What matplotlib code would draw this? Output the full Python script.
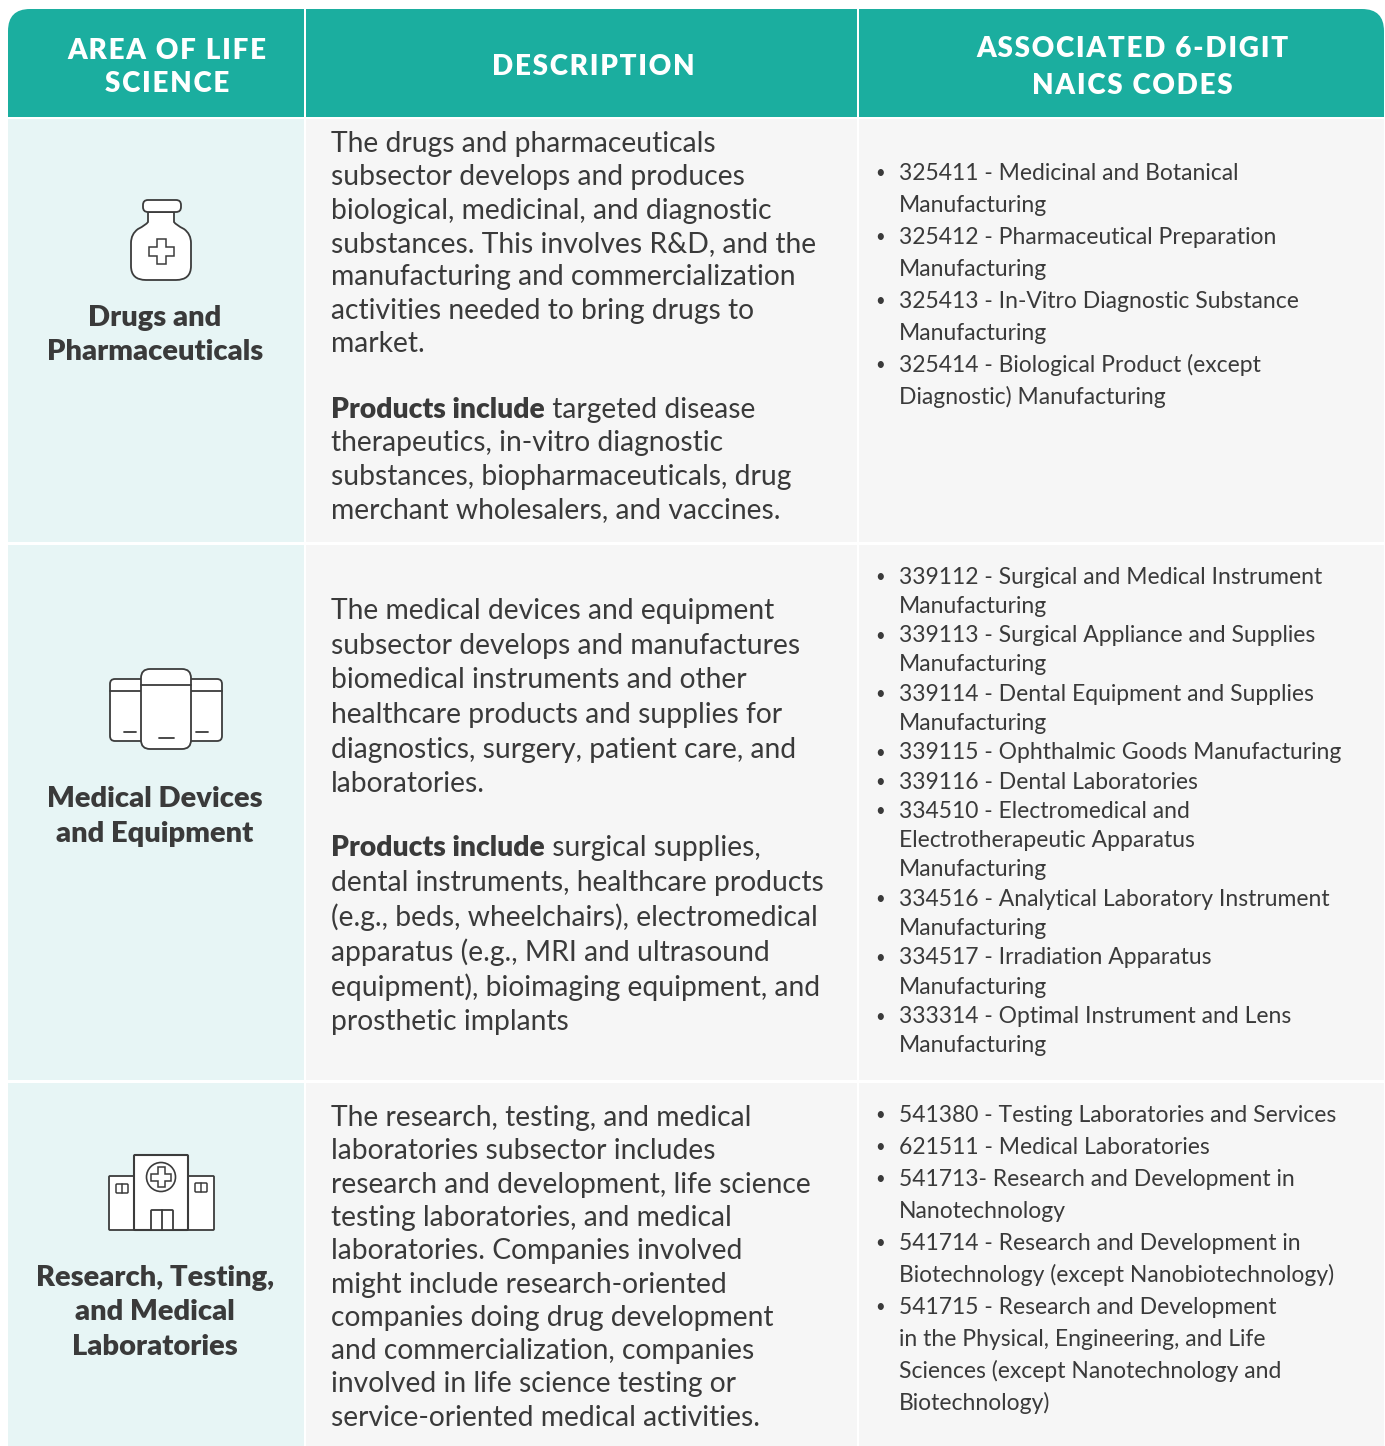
# %%
# ----------------------------------------------------------------------------------
# Import modules
# ----------------------------------------------------------------------------------
import matplotlib
matplotlib.use('Agg')
import matplotlib.pyplot as plt
from matplotlib.patches import Rectangle, FancyBboxPatch, Circle, PathPatch
from matplotlib.path import Path

# %%
# ----------------------------------------------------------------------------------
# Table content
# ----------------------------------------------------------------------------------
header_area = ['AREA OF LIFE', 'SCIENCE']
header_desc = ['DESCRIPTION']
header_codes = ['ASSOCIATED 6-DIGIT', 'NAICS CODES']

area_drugs = ['Drugs and', 'Pharmaceuticals']
area_devices = ['Medical Devices', 'and Equipment']
area_labs = ['Research, Testing,', 'and Medical', 'Laboratories']

desc_drugs_1 = ['The drugs and pharmaceuticals',
                'subsector develops and produces',
                'biological, medicinal, and diagnostic',
                'substances. This involves R&D, and the',
                'manufacturing and commercialization',
                'activities needed to bring drugs to',
                'market.']
desc_drugs_2 = [' targeted disease',
                'therapeutics, in-vitro diagnostic',
                'substances, biopharmaceuticals, drug',
                'merchant wholesalers, and vaccines.']
desc_devices_1 = ['The medical devices and equipment',
                  'subsector develops and manufactures',
                  'biomedical instruments and other',
                  'healthcare products and supplies for',
                  'diagnostics, surgery, patient care, and',
                  'laboratories.']
desc_devices_2 = [' surgical supplies,',
                  'dental instruments, healthcare products',
                  '(e.g., beds, wheelchairs), electromedical',
                  'apparatus (e.g., MRI and ultrasound',
                  'equipment), bioimaging equipment, and',
                  'prosthetic implants']
desc_labs = ['The research, testing, and medical',
             'laboratories subsector includes',
             'research and development, life science',
             'testing laboratories, and medical',
             'laboratories. Companies involved',
             'might include research-oriented',
             'companies doing drug development',
             'and commercialization, companies',
             'involved in life science testing or',
             'service-oriented medical activities.']
products_label = 'Products include'

# each code entry is a list of wrapped lines, the bullet goes on the first one
codes_drugs = [['325411 - Medicinal and Botanical', 'Manufacturing'],
               ['325412 - Pharmaceutical Preparation', 'Manufacturing'],
               ['325413 - In-Vitro Diagnostic Substance', 'Manufacturing'],
               ['325414 - Biological Product (except',
                'Diagnostic) Manufacturing']]
codes_devices = [['339112 - Surgical and Medical Instrument', 'Manufacturing'],
                 ['339113 - Surgical Appliance and Supplies', 'Manufacturing'],
                 ['339114 - Dental Equipment and Supplies', 'Manufacturing'],
                 ['339115 - Ophthalmic Goods Manufacturing'],
                 ['339116 - Dental Laboratories'],
                 ['334510 - Electromedical and',
                  'Electrotherapeutic Apparatus', 'Manufacturing'],
                 ['334516 - Analytical Laboratory Instrument', 'Manufacturing'],
                 ['334517 - Irradiation Apparatus', 'Manufacturing'],
                 ['333314 - Optimal Instrument and Lens', 'Manufacturing']]
codes_labs = [['541380 - Testing Laboratories and Services'],
              ['621511 - Medical Laboratories'],
              ['541713- Research and Development in', 'Nanotechnology'],
              ['541714 - Research and Development in',
               'Biotechnology (except Nanobiotechnology)'],
              ['541715 - Research and Development',
               'in the Physical, Engineering, and Life',
               'Sciences (except Nanotechnology and',
               'Biotechnology)']]

# %%
# ----------------------------------------------------------------------------------
# Setup
# ----------------------------------------------------------------------------------
plt.rcParams['font.family'] = ['Lato', 'DejaVu Sans']

teal = '#1BAE9F'
pale = '#E7F5F5'
grey = '#F6F6F6'
ink = '#3A3A3A'
line = '#3C3C3C'

fig = plt.figure(figsize=(13.85, 14.46), dpi=100)
ax = fig.add_axes([0, 0, 1, 1])
ax.set_xlim(0, 1385)
ax.set_ylim(1446, 0)
ax.axis('off')


def stack(lines, x, y, step, size, color=ink, ha='left', weight='normal'):
    # one text per line so the line spacing can be matched exactly
    for i, s in enumerate(lines):
        ax.text(x, y + i * step, s, fontsize=size, color=color, va='center',
                ha=ha, fontweight=weight)


def spaced(lines):
    # header has wide letter spacing, hair spaces are the closest thing
    return ['\u200a'.join(s) for s in lines]


def codes(entries, y, step):
    n = 0
    for entry in entries:
        ax.text(880, y + n * step, '\u2022', fontsize=12, color=ink,
                va='center', ha='center')
        stack(entry, 899, y + n * step, step, code_size)
        n += len(entry)


def products(rest, y, step, size):
    # bold lead-in, then the regular text carries on from where it ends
    t = ax.text(331, y, products_label, fontsize=size, color=ink, va='center',
                fontweight='heavy')
    ext = t.get_window_extent(fig.canvas.get_renderer())
    xend = ax.transData.inverted().transform((ext.x1, ext.y0))[0]
    ax.text(xend, y, rest[0], fontsize=size, color=ink, va='center')
    stack(rest[1:], 331, y + step, step, size)


def box(x0, y0, x1, y1, r=3, lw=1.3, z=3):
    ax.add_patch(FancyBboxPatch((x0 + r, y0 + r), x1 - x0 - 2 * r, y1 - y0 - 2 * r,
                                boxstyle='round,pad=%d,rounding_size=%d' % (r, r),
                                fc='white', ec=line, lw=lw, zorder=z))


def seg(xs, ys, lw=1.3, z=4):
    ax.plot(xs, ys, color=line, lw=lw, zorder=z, solid_capstyle='round')


def cross(cx, cy, a, b, z=5):
    # a = half length of the arm, b = half width
    xs = [-b, b, b, a, a, b, b, -b, -b, -a, -a, -b, -b]
    ys = [-a, -a, -b, -b, b, b, a, a, b, b, -b, -b, -a]
    ax.fill([cx + v for v in xs], [cy + v for v in ys], fc='white', ec=line,
            lw=1.1, zorder=z)


# %%
# ----------------------------------------------------------------------------------
# Background cells
# ----------------------------------------------------------------------------------
left, right = 8, 1384
col1, col2 = 304, 857
rows = [(119, 542), (545, 1080), (1083, 1446)]
for y0, y1 in rows:
    ax.add_patch(Rectangle((left, y0), col1 - left, y1 - y0, fc=pale, ec='none'))
    ax.add_patch(Rectangle((col1 + 2, y0), col2 - col1 - 2, y1 - y0, fc=grey, ec='none'))
    ax.add_patch(Rectangle((col2 + 2, y0), right - col2 - 2, y1 - y0, fc=grey, ec='none'))

# header band, only the two top corners are round
top, bottom, r = 9, 117, 22
verts = [(left, bottom), (left, top + r), (left, top), (left + r, top),
         (right - r, top), (right, top), (right, top + r), (right, bottom),
         (left, bottom)]
cmds = [Path.MOVETO, Path.LINETO, Path.CURVE3, Path.CURVE3, Path.LINETO,
        Path.CURVE3, Path.CURVE3, Path.LINETO, Path.CLOSEPOLY]
ax.add_patch(PathPatch(Path(verts, cmds), fc=teal, ec='none'))
ax.add_patch(Rectangle((col1, top), 2, bottom - top + 2, fc='white', ec='none'))
ax.add_patch(Rectangle((col2, top), 2, bottom - top + 2, fc='white', ec='none'))

# %%
# ----------------------------------------------------------------------------------
# Text
# ----------------------------------------------------------------------------------
head_size = 20
area_size = 21
desc_size = 20.3
code_size = 16.5

stack(spaced(header_area), 167, 51, 33, head_size, color='white', ha='center', weight='heavy')
stack(spaced(header_desc), 593, 67, 0, head_size, color='white', ha='center', weight='heavy')
stack(spaced(header_codes), 1132, 49, 37, head_size, color='white', ha='center', weight='heavy')

stack(area_drugs, 155, 318, 34, area_size, ha='center', weight='heavy')
stack(area_devices, 155, 799, 35, area_size, ha='center', weight='heavy')
stack(area_labs, 155, 1278, 34.5, area_size, ha='center', weight='heavy')

stack(desc_drugs_1, 331, 144, 33.3, desc_size)
products(desc_drugs_2, 410, 33.3, desc_size)
stack(desc_devices_1, 331, 611, 34.7, desc_size)
products(desc_devices_2, 848, 34.8, desc_size)
stack(desc_labs, 331, 1118, 33.3, desc_size)

codes(codes_drugs, 173, 32)
codes(codes_devices, 577, 29.3)
codes(codes_labs, 1115, 32)

# %%
# ----------------------------------------------------------------------------------
# Icons
# ----------------------------------------------------------------------------------
# bottle
bottle = [(148, 212), (148, 222), (146, 225), (138, 229), (131, 234), (131, 243),
          (131, 266), (131, 280), (146, 280), (176, 280), (191, 280), (191, 266),
          (191, 243), (191, 234), (184, 229), (176, 225), (174, 222), (174, 212),
          (148, 212)]
bottle_cmds = [Path.MOVETO, Path.LINETO, Path.CURVE3, Path.CURVE3, Path.CURVE3,
               Path.CURVE3, Path.LINETO, Path.CURVE3, Path.CURVE3, Path.LINETO,
               Path.CURVE3, Path.CURVE3, Path.LINETO, Path.CURVE3, Path.CURVE3,
               Path.CURVE3, Path.CURVE3, Path.LINETO, Path.CLOSEPOLY]
ax.add_patch(PathPatch(Path(bottle, bottle_cmds), fc='white', ec=line, lw=1.3, zorder=3))
box(143, 200, 181, 212, r=5, z=4)
cross(161.5, 251, 12.5, 4.5)

# devices
box(110, 679, 145, 741, r=5)
box(187, 679, 222, 741, r=5)
seg([110, 143], [691, 691])
seg([189, 222], [691, 691])
seg([124, 136], [731.5, 731.5])
seg([196, 208], [731.5, 731.5])
box(141, 669, 191, 749, r=9, z=5)
seg([141, 191], [685, 685], z=6)
seg([159, 174], [738, 738], z=6)

# hospital
box(109, 1176, 136, 1230, r=1)
box(186, 1176, 214, 1230, r=1)
box(134, 1155, 188, 1230, r=1, lw=1.5, z=4)
ax.add_patch(Circle((161, 1177), 14.5, fc='white', ec=line, lw=1.2, zorder=5))
cross(161, 1177, 10, 3.5, z=6)
box(151, 1210, 173, 1230, r=1, z=5)
seg([162, 162], [1210, 1230], z=6)
box(116, 1184, 128, 1193, r=1, lw=1.1, z=5)
seg([122, 122], [1184, 1193], lw=1.1, z=6)
box(195, 1183, 207, 1192, r=1, lw=1.1, z=5)
seg([201, 201], [1183, 1192], lw=1.1, z=6)

fig.savefig('out.png', dpi=100, facecolor='white')
